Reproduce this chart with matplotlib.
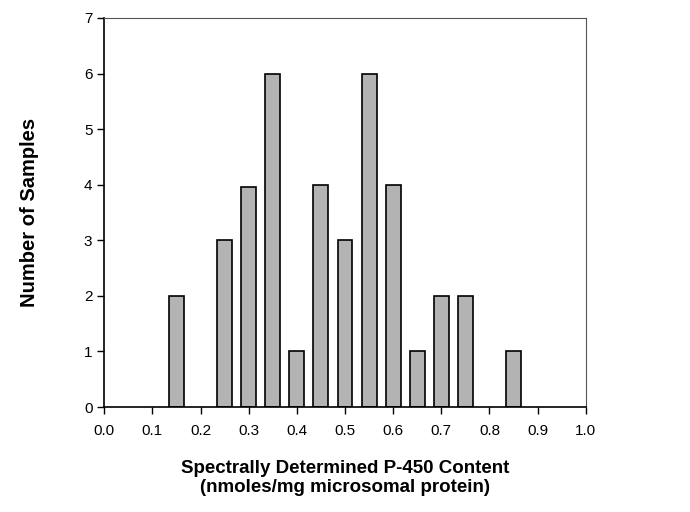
import matplotlib
matplotlib.use("Agg")
import matplotlib.pyplot as plt

plt.rcParams['font.family'] = ['Liberation Sans', 'DejaVu Sans']

# P-450 content bins (nmoles/mg) and sample counts
content = [0.15, 0.25, 0.30, 0.35, 0.40, 0.45, 0.50, 0.55, 0.60, 0.65, 0.70, 0.75, 0.85]
samples = [2, 3, 3.95, 6, 1, 4, 3, 6, 4, 1, 2, 2, 1]
xticks = [0.0, 0.1, 0.2, 0.3, 0.4, 0.5, 0.6, 0.7, 0.8, 0.9, 1.0]

fig = plt.figure(figsize=(6.9, 5.12), dpi=100)
ax = fig.add_axes([0.151, 0.205, 0.698, 0.76])

ax.bar(content, samples, width=0.031, color="#b3b3b3", edgecolor="black", linewidth=1.2)

ax.set_xlim(0, 1.0)
ax.set_ylim(0, 7)
ax.set_xticks(xticks)
ax.set_xticklabels(["%.1f" % t for t in xticks])
ax.set_yticks(range(8))
ax.tick_params(direction="out", length=5, width=1, labelsize=11, colors="black")
ax.tick_params(axis="x", pad=7)

for s in ["left", "bottom"]:
    ax.spines[s].set_linewidth(1.2)
for s in ["top", "right"]:
    ax.spines[s].set_linewidth(0.8)
    ax.spines[s].set_color("#555555")

ax.set_ylabel("Number of Samples", fontsize=14.5, fontweight="bold", labelpad=32)
ax.set_xlabel("Spectrally Determined P-450 Content\n(nmoles/mg microsomal protein)",
              fontsize=13.5, fontweight="bold", labelpad=16, linespacing=1.15)

fig.savefig("out.png", dpi=100)
